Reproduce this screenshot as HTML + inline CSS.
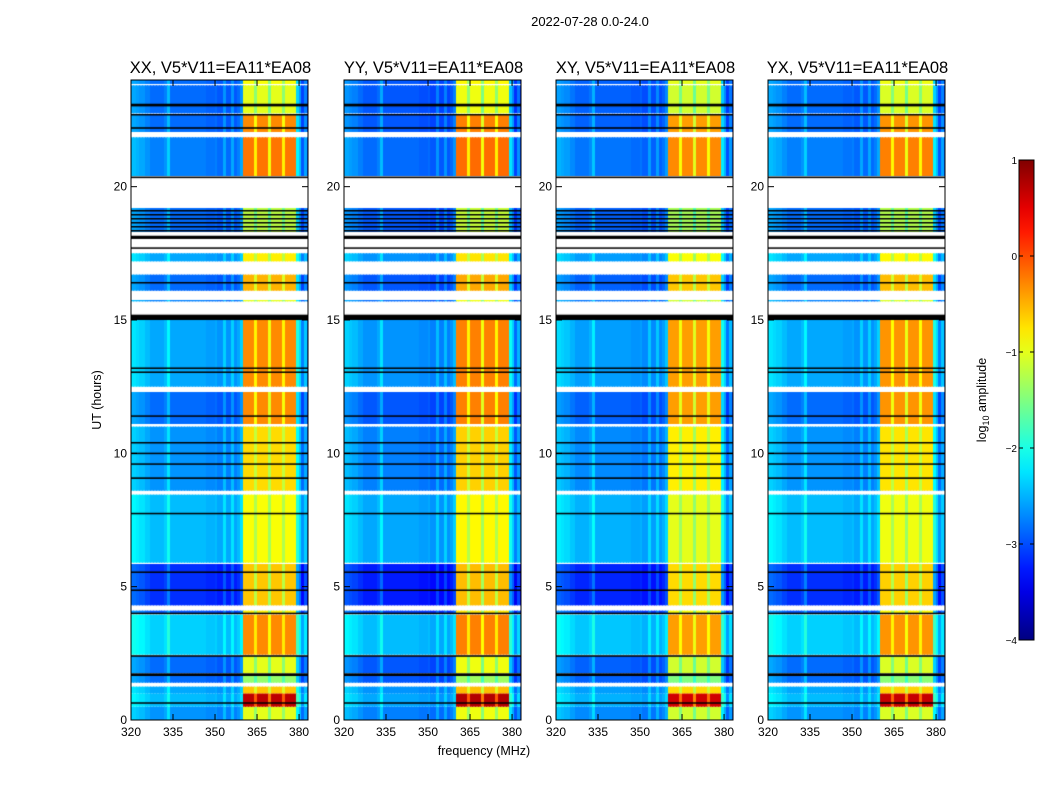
<!DOCTYPE html>
<html><head><meta charset="utf-8"><style>
body{margin:0;background:#fff;}
#wrap{position:relative;width:1050px;height:800px;overflow:hidden;background:#fff;font-family:"Liberation Sans",sans-serif;}
canvas{position:absolute;}
svg{position:absolute;left:0;top:0;}
</style></head><body>
<div id="wrap">
<svg id="ov" width="1050" height="800"></svg>
</div>
<script>
// ---- data ----
const panelNames=["XX","YY","XY","YX"];
const panelBaseShift=[-0.15,-0.25,-0.2,-0.15];
const panelBandShift=[0,0.05,-0.1,-0.05];
// segments: [startHour, endHour, backgroundLevel, bandLevel]
const segStart=[0,0.5,1.0,1.4,1.75,2.45,4.0,4.3,5.9,8.6,11.1,12.5,15.7,16.1,17.2,18.3,20.4,22.05,22.75,23.85];
const segEnd  =[0.5,1.0,1.25,1.65,2.4,3.95,4.1,5.85,8.45,11.0,12.3,15.0,15.75,16.7,17.5,19.2,21.85,22.7,23.8,24.0];
const segBase =[-2.4,-2.2,-2.3,-2.6,-2.6,-2.1,-2.7,-2.9,-2.2,-2.4,-2.6,-2.3,-2.5,-2.6,-2.3,-2.6,-2.5,-2.6,-2.6,-2.6];
const segBand =[-1.0,0.7,-0.6,-1.4,-1.0,-0.3,-0.8,-0.6,-0.9,-0.7,-0.3,-0.3,-1.0,-0.5,-0.8,-1.2,-0.2,-0.3,-1.0,-0.9];
// flagged black lines: hour, thickness (hours)
const blackHours=[0.65,1.7,2.4,4.0,4.87,5.55,7.75,9.07,9.6,10.0,10.4,11.4,13.05,13.2,15.1,16.4,17.7,18.1,18.35,18.5,18.65,18.8,18.95,19.1,20.35,22.2,22.7,23.06];
const blackThick=[0.03,0.1,0.06,0.05,0.05,0.04,0.04,0.06,0.05,0.05,0.05,0.05,0.04,0.04,0.2,0.05,0.05,0.12,0.05,0.05,0.05,0.05,0.05,0.05,0.06,0.06,0.05,0.1];
// frequency columns 320..383 MHz: band weight and background offset
const bandWeight=[0,0,0,0,0,0,0,0,0,0,0,0,0,0,0,0,0,0,0,0,0,0,0,0,0,0,0,0,0,0,0,0,0,0,0,0,0,0,0,0,
 1,1,1,1,0.75,1,1,1,1,0.7,1,1,1,1,0.75,1,1,1,1,0.1,0.15,0,0.1,0];
const bgOffset=[0.2,0.2,0.15,0.1,0.1,0.0,0.0,-0.1,-0.1,-0.1,-0.1,-0.1,0.0,0.3,-0.1,-0.1,-0.1,-0.1,-0.1,-0.1,
 -0.1,-0.1,-0.1,-0.1,-0.1,-0.1,-0.1,-0.15,-0.15,-0.15,-0.1,-0.2,-0.2,0.1,-0.2,-0.2,0.1,-0.2,-0.1,0.1,
 0,0,0,0,0,0,0,0,0,0,0,0,0,0,0,0,0,0,0,0.3,-0.2,-0.3,-0.2,-0.3];
const xTicks=[320,335,350,365,380];
const yTicks=[0,5,10,15,20];
const cbTicks=[1,0,-1,-2,-3,-4];
// ---- layout ----
const lefts=[131,344,556,768], W=177, TOP=80, H=640;
const fMin=320, fMax=383.2, hMin=0, hMax=24, vMin=-4, vMax=1;
function xs(f){return (f-fMin)/(fMax-fMin)*W;}
function ys(h){return H-(h-hMin)/(hMax-hMin)*H;}
function jet(v){let n=(v-vMin)/(vMax-vMin);n=Math.max(0,Math.min(1,n));
 const c=t=>Math.round(255*Math.max(0,Math.min(1,1.5-Math.abs(t))));
 return `rgb(${c(4*n-3)},${c(4*n-2)},${c(4*n-1)})`;}
const wrap=document.getElementById('wrap');
const ov=document.getElementById('ov');
const NS="http://www.w3.org/2000/svg";
function mk(tag,attrs,parent){const e=document.createElementNS(NS,tag);for(const k in attrs)e.setAttribute(k,attrs[k]);(parent||ov).appendChild(e);return e;}
function txt(x,y,s,size,anchor,parent){const t=mk('text',{x:x,y:y,'font-size':size,'text-anchor':anchor||'middle',fill:'#000','font-family':'Liberation Sans, sans-serif'},parent);t.textContent=s;return t;}
panelNames.forEach((pn,p)=>{
 const cv=document.createElement('canvas');cv.width=W;cv.height=H;
 cv.style.left=lefts[p]+'px';cv.style.top=TOP+'px';
 
 
 wrap.insertBefore(cv,ov);
 const ctx=cv.getContext('2d');ctx.fillStyle='#fff';ctx.fillRect(0,0,W,H);
 for(let s=0;s<segStart.length;s++){
  for(let i=0;i<bandWeight.length;i++){
   const f=fMin+i, w=bandWeight[i];
   const base=segBase[s]+panelBaseShift[p]+bgOffset[i]*(1-w);
   const band=segBand[s]+panelBandShift[p];
   ctx.fillStyle=jet(base+w*(band-base));
   const x0=xs(f),x1=xs(f+1),y0=ys(segEnd[s]),y1=ys(segStart[s]);
   ctx.fillRect(Math.floor(x0),y0,Math.ceil(x1)-Math.floor(x0),y1-y0);
  }
 }
 ctx.fillStyle='#000';
 blackHours.forEach((h,k)=>{const y0=ys(h+blackThick[k]/2),y1=ys(h-blackThick[k]/2);ctx.fillRect(0,y0,W,Math.max(1.5,y1-y0));});
 const g=mk('g',{});
 
 
 const L=lefts[p];
 mk('rect',{x:L,y:TOP,width:W,height:H,fill:'none',stroke:'#000','stroke-width':1},g);
 xTicks.forEach(t=>{const x=L+xs(t);
  mk('line',{x1:x,x2:x,y1:TOP+H,y2:TOP+H-6,stroke:'#000'},g);
  mk('line',{x1:x,x2:x,y1:TOP,y2:TOP+6,stroke:'#000'},g);
  txt(x,TOP+H+16,String(t),12,'middle',g);});
 yTicks.forEach(t=>{const y=TOP+ys(t);
  mk('line',{x1:L,x2:L+6,y1:y,y2:y,stroke:'#000'},g);
  mk('line',{x1:L+W,x2:L+W-6,y1:y,y2:y,stroke:'#000'},g);
  txt(L-4,y+4,String(t),12,'end',g);});
 const tt=txt(L+W/2+1,TOP-7,pn+", V5*V11=EA11*EA08",16.5,'middle',g);
 
 
});
const st=txt(590,26,"2022-07-28 0.0-24.0",13);

const xl=txt(484,755,"frequency (MHz)",12.5);

const yl=txt(0,0,"UT (hours)",12.5);yl.setAttribute('transform','translate(101,400) rotate(-90)');

const cbX=1019,cbY=160,cbW=15,cbH=480;
const defs=mk('defs',{});
const lg=mk('linearGradient',{id:'jetg',x1:0,y1:1,x2:0,y2:0},defs);
for(let k=0;k<=20;k++){mk('stop',{offset:(k/20),'stop-color':jet(vMin+k/20*(vMax-vMin))},lg);}
const cb=mk('rect',{x:cbX,y:cbY,width:cbW,height:cbH,fill:'url(#jetg)',stroke:'#000','stroke-width':1});

cbTicks.forEach(t=>{const y=cbY+(vMax-t)/(vMax-vMin)*cbH;
 mk('line',{x1:cbX+cbW-4,x2:cbX+cbW,y1:y,y2:y,stroke:'#000'});
 mk('line',{x1:cbX,x2:cbX+4,y1:y,y2:y,stroke:'#000'});
 const tl=txt(cbX-2,y+4,(t<0?"\u2212"+(-t):String(t)),10,'end');
 });
const cl=mk('text',{x:0,y:0,'font-size':12.5,'text-anchor':'middle',transform:'translate(986,400) rotate(-90)','font-family':'Liberation Sans, sans-serif'});
cl.innerHTML='log<tspan font-size="9" dy="3">10</tspan><tspan dy="-3"> amplitude</tspan>';

</script>
</body></html>
